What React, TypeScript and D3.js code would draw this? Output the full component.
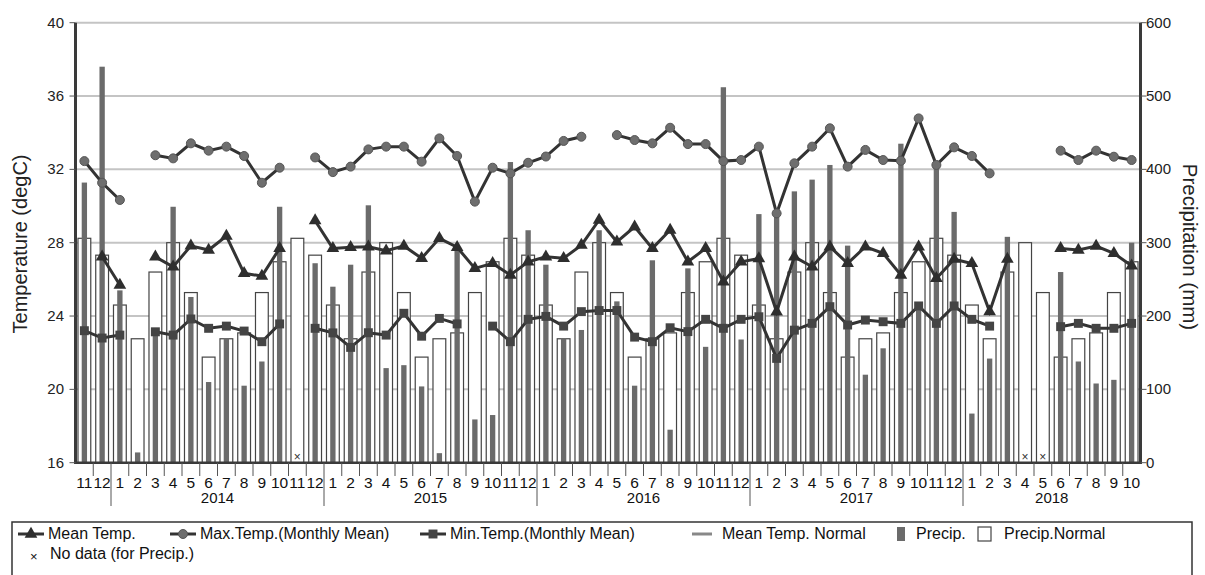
import * as d3 from "d3";

const width = 1205;
const height = 575;

// Nov 2013 .. Oct 2018
const monthLabels = [
  "11", "12",
  "1", "2", "3", "4", "5", "6", "7", "8", "9", "10", "11", "12",
  "1", "2", "3", "4", "5", "6", "7", "8", "9", "10", "11", "12",
  "1", "2", "3", "4", "5", "6", "7", "8", "9", "10", "11", "12",
  "1", "2", "3", "4", "5", "6", "7", "8", "9", "10", "11", "12",
  "1", "2", "3", "4", "5", "6", "7", "8", "9", "10",
];
const yearLabels = ["2014", "2015", "2016", "2017", "2018"];

const maxTemp = [
  32.45, 31.27,
  30.33, null, 32.77, 32.6, 33.42, 33.02, 33.24, 32.73, 31.27, 32.09, null, 32.65,
  31.85, 32.15, 33.09, 33.24, 33.24, 32.42, 33.69, 32.73, 30.24, 32.09, 31.78, 32.36,
  32.7, 33.55, 33.78, null, 33.87, 33.6, 33.42, 34.27, 33.38, 33.38, 32.45, 32.51,
  33.24, 29.6, 32.33, 33.24, 34.24, 32.15, 33.06, 32.51, 32.47, 34.78, 32.24, 33.2,
  32.73, 31.78, null, null, null, 33.02, 32.51, 33.02, 32.69, 32.51,
];
const meanTemp = [
  null, 27.23,
  25.69, null, 27.23, 26.69, 27.83, 27.6, 28.36, 26.33, 26.18, 27.69, null, 29.2,
  27.69, 27.75, 27.78, 27.56, 27.82, 27.15, 28.24, 27.75, 26.6, 26.87, 26.24, 26.96,
  27.23, 27.15, 27.87, 29.24, 28.05, 28.87, 27.69, 28.69, 26.96, 27.69, 25.87, 26.96,
  27.14, 24.23, 27.23, 26.69, 27.78, 26.87, 27.78, 27.42, 26.24, 27.78, 26.05, 27.1,
  26.87, 24.24, 27.1, null, null, 27.69, 27.6, 27.82, 27.42, 26.74,
];
const minTemp = [
  23.2, 22.8,
  22.96, null, 23.14, 22.96, 23.84, 23.33, 23.45, 23.18, 22.6, 23.57, null, 23.33,
  23.08, 22.29, 23.09, 22.96, 24.15, 22.9, 23.87, 23.57, null, 23.45, 22.6, 23.82,
  23.98, 23.45, 24.24, 24.3, 24.3, 22.85, 22.6, 23.36, 23.15, 23.82, 23.33, 23.82,
  23.96, 21.69, 23.23, 23.6, 24.51, 23.51, 23.78, 23.69, 23.6, 24.55, 23.6, 24.55,
  23.82, 23.45, null, null, null, 23.42, 23.6, 23.33, 23.33, 23.6,
];
// mm, null = no data
const precip = [
  382, 540,
  235, 14, 181, 349, 226, 110, 170, 105, 138, 349, null, 272,
  240, 270, 351, 129, 133, 104, 13, 297, 59, 65, 410, 317,
  270, 170, 181, 317, 220, 105, 276, 45, 265, 158, 512, 168,
  339, 335, 370, 386, 406, 296, 120, 156, 435, 218, 408, 342,
  67, 142, 308, null, null, 260, 138, 108, 113, 300,
];
// normal by calendar month Jan..Dec
const precipNormal = [215, 169, 260, 300, 232, 144, 169, 177, 232, 274, 306, 283];

const tempTicks = [16, 20, 24, 28, 32, 36, 40];
const precipTicks = [0, 100, 200, 300, 400, 500, 600];

const font = "'Liberation Sans', Arial, sans-serif";
const dark = "#333";

const left = 75.5;
const right = 1140.5;
const top = 22.7;
const bottom = 462.7;

export default function App() {
  const idx = d3.range(monthLabels.length);
  const x = d3.scaleBand<number>().domain(idx).range([left, right]);
  const bw = x.bandwidth();
  const cx = (i: number) => (x(i) as number) + bw / 2;
  const yT = d3.scaleLinear().domain([16, 40]).range([bottom, top]);
  const yP = d3.scaleLinear().domain([0, 600]).range([bottom, top]);

  const line = (vals: (number | null)[]) =>
    d3
      .line<number>()
      .defined((i) => vals[i] != null)
      .x(cx)
      .y((i) => yT(vals[i] as number))(idx) || "";

  const yearStarts = idx.filter((i) => monthLabels[i] === "1");
  const normalOf = (i: number) => precipNormal[+monthLabels[i] - 1];

  const tri = d3.symbol().type(d3.symbolTriangle).size(70)();
  const sq = d3.symbol().type(d3.symbolSquare).size(80)();

  // legend pieces
  const legendY = 539;
  const legendItems = [
    { x: 18, tx: 48, kind: "mean", label: "Mean Temp." },
    { x: 170, tx: 200, kind: "max", label: "Max.Temp.(Monthly Mean)" },
    { x: 420, tx: 450, kind: "min", label: "Min.Temp.(Monthly Mean)" },
    { x: 692, tx: 722, kind: "normLine", label: "Mean Temp. Normal" },
    { x: 893, tx: 916, kind: "precip", label: "Precip." },
    { x: 976, tx: 1004, kind: "normBar", label: "Precip.Normal" },
  ];

  return (
    <svg
      width={width}
      height={height}
      style={{ position: "absolute", left: 0, top: 0, background: "#fff" }}
      fontFamily={font}
    >
      {/* grid */}
      {tempTicks.slice(1).map((t) => (
        <line key={t} x1={left} x2={right} y1={yT(t)} y2={yT(t)} stroke="#c4c4c4" strokeWidth={2} />
      ))}

      {/* precip normal bars */}
      {idx.map((i) => (
        <rect
          key={"n" + i}
          x={cx(i) - bw * 0.36}
          width={bw * 0.72}
          y={yP(normalOf(i))}
          height={bottom - yP(normalOf(i))}
          fill="#fff"
          stroke="#444"
          strokeWidth={1.2}
        />
      ))}
      {/* precip bars */}
      {idx.map((i) =>
        precip[i] == null ? (
          <text key={"p" + i} x={cx(i)} y={bottom - 2} fontSize={12} textAnchor="middle" fill={dark}>
            ×
          </text>
        ) : (
          <rect
            key={"p" + i}
            x={cx(i) - bw * 0.15}
            width={bw * 0.3}
            y={yP(precip[i] as number)}
            height={bottom - yP(precip[i] as number)}
            fill="#6b6b6b"
          />
        )
      )}

      {/* temperature lines */}
      <path d={line(maxTemp)} fill="none" stroke={dark} strokeWidth={3} />
      <path d={line(meanTemp)} fill="none" stroke={dark} strokeWidth={3} />
      <path d={line(minTemp)} fill="none" stroke={dark} strokeWidth={3} />
      {idx.map((i) =>
        maxTemp[i] == null ? null : (
          <circle key={"mx" + i} cx={cx(i)} cy={yT(maxTemp[i] as number)} r={4.5} fill="#6e6e6e" stroke="#555" />
        )
      )}
      {idx.map((i) =>
        meanTemp[i] == null ? null : (
          <path key={"me" + i} d={tri as string} transform={`translate(${cx(i)},${yT(meanTemp[i] as number)})`} fill="#2e2e2e" />
        )
      )}
      {idx.map((i) =>
        minTemp[i] == null ? null : (
          <path key={"mn" + i} d={sq as string} transform={`translate(${cx(i)},${yT(minTemp[i] as number)})`} fill="#444" />
        )
      )}

      {/* axes */}
      <line x1={left} x2={left} y1={top} y2={bottom} stroke="#3a3a3a" strokeWidth={3} />
      <line x1={right} x2={right} y1={top} y2={bottom} stroke="#3a3a3a" strokeWidth={3} />
      <line x1={left - 1.5} x2={right + 1.5} y1={bottom} y2={bottom} stroke="#3a3a3a" strokeWidth={2.5} />
      {tempTicks.map((t) => (
        <g key={"lt" + t}>
          <line x1={left - 6} x2={left} y1={yT(t)} y2={yT(t)} stroke="#555" />
          <text x={64} y={yT(t) + 5} fontSize={15} textAnchor="end" fill="#222">
            {t}
          </text>
        </g>
      ))}
      {precipTicks.map((p) => (
        <g key={"rt" + p}>
          <line x1={right} x2={right + 6} y1={yP(p)} y2={yP(p)} stroke="#555" />
          <text x={1146} y={yP(p) + 5} fontSize={15} fill="#222">
            {p}
          </text>
        </g>
      ))}
      <text transform={`translate(27,244) rotate(-90)`} textAnchor="middle" fontSize={20} fill="#222">
        Temperature (degC)
      </text>
      <text transform={`translate(1183,247) rotate(90)`} textAnchor="middle" fontSize={20.5} fill="#222">
        Precipitation (mm)
      </text>

      {/* x axis: months and years */}
      {idx.map((i) => (
        <g key={"m" + i}>
          {i > 0 && (
            <line
              x1={x(i) as number}
              x2={x(i) as number}
              y1={bottom}
              y2={monthLabels[i] === "1" ? 506 : 476}
              stroke="#555"
              strokeWidth={1}
            />
          )}
          <text x={cx(i)} y={488} fontSize={15.5} textAnchor="middle" fill="#111">
            {monthLabels[i]}
          </text>
        </g>
      ))}
      {yearStarts.map((s, k) => {
        const e = k + 1 < yearStarts.length ? yearStarts[k + 1] : monthLabels.length;
        const mid = ((x(s) as number) + (x(e - 1) as number) + bw) / 2;
        return (
          <text key={"y" + k} x={mid} y={503} fontSize={15} textAnchor="middle" fill="#111">
            {yearLabels[k]}
          </text>
        );
      })}

      {/* legend */}
      <rect x={12} y={522} width={1180} height={70} fill="none" stroke="#333" strokeWidth={1.5} />
      {legendItems.map((it) => {
        const sx = it.x;
        const cy = legendY - 5;
        let sym = null;
        if (it.kind === "mean" || it.kind === "max" || it.kind === "min") {
          sym = (
            <g>
              <line x1={sx} x2={sx + 26} y1={cy} y2={cy} stroke={dark} strokeWidth={3} />
              {it.kind === "mean" && <path d={tri as string} transform={`translate(${sx + 13},${cy})`} fill="#2e2e2e" />}
              {it.kind === "max" && <circle cx={sx + 13} cy={cy} r={4.5} fill="#6e6e6e" stroke="#555" />}
              {it.kind === "min" && <path d={sq as string} transform={`translate(${sx + 13},${cy})`} fill="#444" />}
            </g>
          );
        } else if (it.kind === "normLine") {
          sym = <line x1={sx} x2={sx + 20} y1={cy} y2={cy} stroke="#888" strokeWidth={3} />;
        } else if (it.kind === "precip") {
          sym = <rect x={sx + 4} y={cy - 7} width={8} height={14} fill="#6b6b6b" />;
        } else {
          sym = <rect x={sx + 2} y={cy - 7} width={13} height={14} fill="#fff" stroke="#444" strokeWidth={1.2} />;
        }
        return (
          <g key={it.label}>
            {sym}
            <text x={it.tx} y={legendY} fontSize={16} fill="#111">
              {it.label}
            </text>
          </g>
        );
      })}
      <text x={30} y={561} fontSize={13} fill="#111">×</text>
      <text x={50} y={559} fontSize={16} fill="#111">No data (for Precip.)</text>
    </svg>
  );
}
